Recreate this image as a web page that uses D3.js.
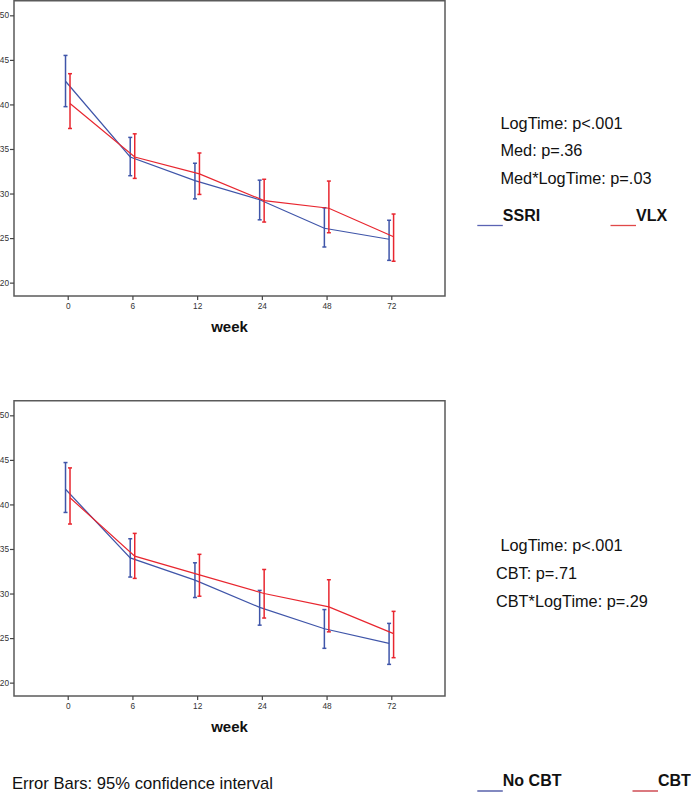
<!DOCTYPE html>
<html>
<head>
<meta charset="utf-8">
<script src="https://cdn.jsdelivr.net/npm/d3@7"></script>
<style>
  html, body { margin: 0; padding: 0; background: #fff; }
  svg { display: block; font-family: "Liberation Sans", Arial, sans-serif; }
</style>
</head>
<body>
<svg id="chart" width="691" height="792"></svg>
<script>
// ---------- data ----------
const weeks = ["0", "6", "12", "24", "48", "72"];
const yTicks = [20, 25, 30, 35, 40, 45, 50];

// Panel 1: medication
const ssriMean = [42.6, 34.1, 31.45, 29.3, 26.1, 24.87];
const ssriLow  = [39.75, 32.0, 29.4, 27.05, 24.0, 22.5];
const ssriHigh = [45.5, 36.3, 33.4, 31.5, 28.4, 27.0];
const vlxMean  = [40.1, 34.1, 32.2, 29.2, 28.35, 25.15];
const vlxLow   = [37.3, 31.7, 29.9, 26.8, 25.6, 22.4];
const vlxHigh  = [43.45, 36.7, 34.55, 31.6, 31.4, 27.7];

// Panel 2: CBT
const noCbtMean = [41.7, 34.0, 31.5, 28.45, 26.05, 24.4];
const noCbtLow  = [39.1, 31.85, 29.55, 26.45, 23.85, 22.05];
const noCbtHigh = [44.7, 36.15, 33.45, 30.35, 28.2, 26.65];
const cbtMean   = [40.75, 34.2, 32.1, 30.0, 28.5, 25.5];
const cbtLow    = [37.8, 31.7, 29.7, 27.25, 25.7, 22.8];
const cbtHigh   = [44.1, 36.75, 34.4, 32.7, 31.55, 28.0];

const stats1 = ["LogTime: p<.001", "Med: p=.36", "Med*LogTime: p=.03"];
const stats2 = ["LogTime: p<.001", "CBT: p=.71", "CBT*LogTime: p=.29"];
const legend1 = ["SSRI", "VLX"];
const legend2 = ["No CBT", "CBT"];
const footnote = "Error Bars: 95% confidence interval";

// ---------- drawing ----------
const BLUE = "#3f55a9";
const RED = "#e8262f";
const svg = d3.select("#chart");

function panel(top, s1, s2) {
  const left = 14, right = 445, h = 296;
  const g = svg.append("g").attr("transform", `translate(0,${top})`);
  const x = d3.scalePoint().domain(weeks).range([left, right]).padding(0.83);
  const y = d3.scaleLinear().domain([18.5, 51.72]).range([h, 0]);

  // frame
  g.append("rect").attr("x", left).attr("y", 0.75).attr("width", right - left).attr("height", h - 0.75)
    .attr("fill", "none").attr("stroke", "#5a5a5a").attr("stroke-width", 1.5);

  // y axis
  const ya = g.append("g").attr("transform", `translate(${left},0)`)
    .call(d3.axisLeft(y).tickValues(yTicks).tickSize(4).tickPadding(1));
  ya.select(".domain").remove();
  ya.selectAll("line").attr("stroke", "#444").attr("stroke-width", 1.2);
  ya.selectAll("text").attr("font-size", 8.3).attr("fill", "#333").attr("font-family", "Liberation Sans, Arial");

  // x axis
  const xa = g.append("g").attr("transform", `translate(0,${h})`)
    .call(d3.axisBottom(x).tickSize(4).tickPadding(3));
  xa.select(".domain").remove();
  xa.selectAll("line").attr("stroke", "#444").attr("stroke-width", 1.2);
  xa.selectAll("text").attr("font-size", 8.3).attr("fill", "#333").attr("font-family", "Liberation Sans, Arial");

  g.append("text").attr("x", (left + right) / 2).attr("y", h + 36)
    .attr("text-anchor", "middle").attr("font-size", 15).attr("font-weight", "bold")
    .attr("fill", "#111").text("week");

  function series(mean, lo, hi, color, dx) {
    const line = d3.line().x((d, i) => x(weeks[i]) + dx).y(d => y(d));
    g.append("path").datum(mean).attr("d", line).attr("fill", "none")
      .attr("stroke", color).attr("stroke-width", 1.2);
    const eb = g.append("g");
    weeks.forEach((w, i) => {
      const cx = x(w) + dx;
      eb.append("line").attr("x1", cx).attr("x2", cx).attr("y1", y(lo[i])).attr("y2", y(hi[i]))
        .attr("stroke", color).attr("stroke-width", 1.5);
      [lo[i], hi[i]].forEach(v => {
        eb.append("line").attr("x1", cx - 2).attr("x2", cx + 2).attr("y1", y(v)).attr("y2", y(v))
          .attr("stroke", color).attr("stroke-width", 1.5);
      });
    });
  }
  series(s1.mean, s1.lo, s1.hi, BLUE, -2.2);
  series(s2.mean, s2.lo, s2.hi, RED, 2.3);
}

panel(0, {mean: ssriMean, lo: ssriLow, hi: ssriHigh}, {mean: vlxMean, lo: vlxLow, hi: vlxHigh});
panel(400, {mean: noCbtMean, lo: noCbtLow, hi: noCbtHigh}, {mean: cbtMean, lo: cbtLow, hi: cbtHigh});

// stats text
function statText(lines, xs, ys) {
  lines.forEach((t, i) => {
    svg.append("text").attr("x", xs[i]).attr("y", ys[i]).attr("font-size", 16.3)
      .attr("fill", "#111").text(t);
  });
}
statText(stats1, [500.5, 500.5, 500.5], [128.5, 156, 183.5]);
statText(stats2, [500.5, 496, 496], [551, 578.5, 606.5]);

// legends
function legendItem(label, color, xl, yText) {
  svg.append("line").attr("x1", xl).attr("x2", xl + 25.5).attr("y1", yText + 5).attr("y2", yText + 5)
    .attr("stroke", color).attr("stroke-width", 1.3);
  svg.append("text").attr("x", xl + 25.5).attr("y", yText).attr("font-size", 16)
    .attr("font-weight", "bold").attr("fill", "#111").text(label);
}
legendItem(legend1[0], "#5a63b3", 477.3, 220.5);
legendItem(legend1[1], "#e04848", 610.5, 220.5);
legendItem(legend2[0], "#3e4a9e", 477.3, 786);
legendItem(legend2[1], "#c8303a", 632.5, 786);

svg.append("text").attr("x", 12).attr("y", 789).attr("font-size", 16.6)
  .attr("fill", "#111").text(footnote);
</script>
</body>
</html>
